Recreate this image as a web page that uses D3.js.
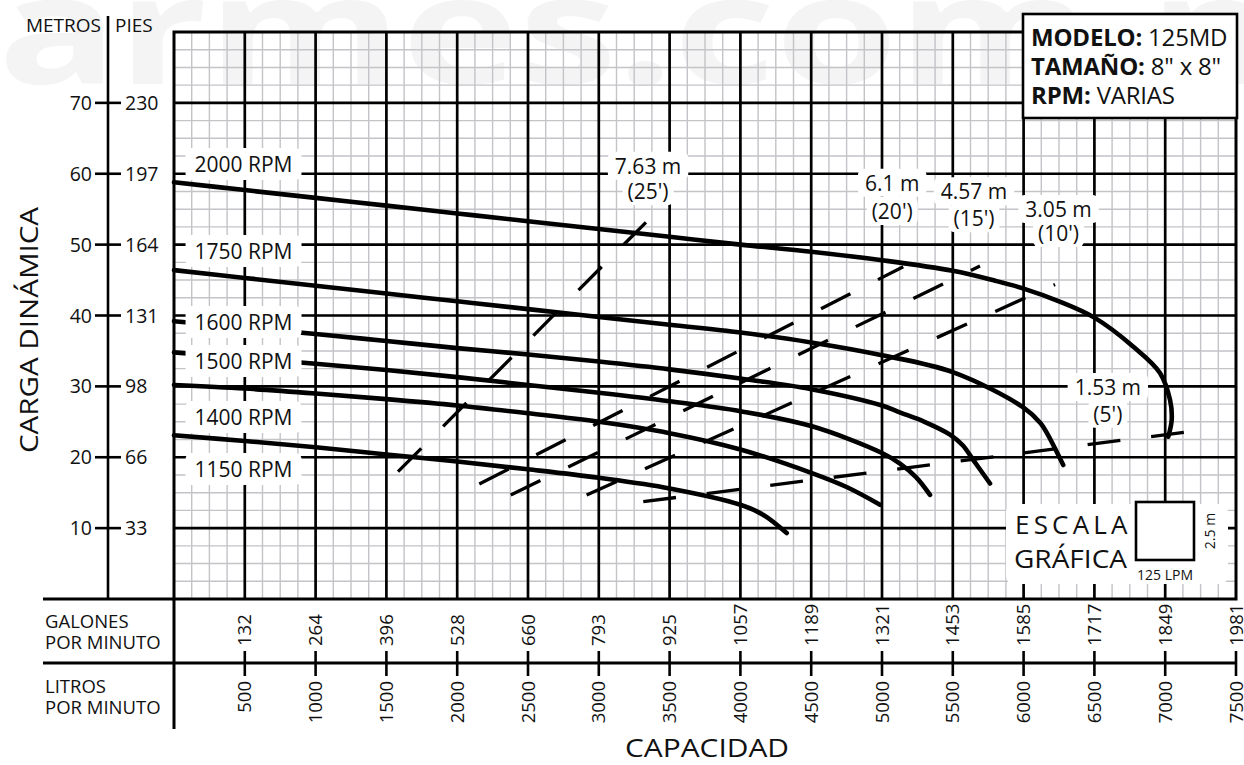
<!DOCTYPE html>
<html><head><meta charset="utf-8">
<script src="https://cdn.jsdelivr.net/npm/d3@7"></script>
<style>
body{margin:0;background:#fff}
svg{display:block}
text{font-family:'Open Sans','Noto Sans',sans-serif;fill:#111}
</style>
</head><body>
<svg id="c" width="1244" height="765"></svg>
<script>
// ---------- DATA ----------
const lpmTicks = [500,1000,1500,2000,2500,3000,3500,4000,4500,5000,5500,6000,6500,7000,7500];
const gpmLabels = ["132","264","396","528","660","793","925","1057","1189","1321","1453","1585","1717","1849","1981"];
const meterTicks = [70,60,50,40,30,20,10];
const feetLabels = ["230","197","164","131","98","66","33"];
const rpmNames = ["2000 RPM","1750 RPM","1600 RPM","1500 RPM","1400 RPM","1150 RPM"];
// [LPM, metros]
const curve2000 = [[0,58.8],[500,57.7],[1000,56.6],[1500,55.5],[2000,54.4],[2500,53.3],[3000,52.2],[3500,51.1],[4000,50.0],[4500,49.0],[5000,47.8],[5500,46.3],[5800,44.9],[6000,43.8],[6250,42.0],[6500,39.7],[6775,35.6],[6963,31.9],[7034,28.1],[7046,25.3],[7022,22.9]];
const curve1750 = [[0,46.4],[500,45.3],[1000,44.2],[1500,43.1],[2000,42.0],[2500,40.9],[3000,39.8],[3500,38.7],[4000,37.6],[4500,36.2],[5000,34.4],[5500,32.0],[6000,27.0],[6120,24.8],[6165,23.4],[6280,18.9]];
const curve1600 = [[0,39.2],[500,38.3],[1000,37.4],[1500,36.4],[2000,35.4],[2500,34.5],[3000,33.5],[3500,32.4],[4000,31.1],[4500,29.6],[5000,27.3],[5130,26.3],[5300,25.0],[5480,23.2],[5570,21.7],[5645,19.6],[5763,16.3]];
const curve1500 = [[0,34.8],[500,34.0],[1000,33.2],[1500,32.3],[2000,31.3],[2500,30.2],[3000,29.1],[3500,27.9],[4000,26.5],[4500,24.4],[5000,20.6],[5127,19.1],[5240,17.2],[5339,14.7]];
const curve1400 = [[0,30.2],[500,29.7],[1000,29.0],[1500,28.2],[2000,27.3],[2500,26.2],[3000,25.0],[3500,23.4],[4000,21.1],[4500,17.8],[4750,15.8],[4986,13.3]];
const curve1150 = [[0,23.1],[500,22.3],[1000,21.4],[1500,20.4],[2000,19.4],[2500,18.3],[3000,17.1],[3500,15.6],[4000,13.3],[4160,11.9],[4327,9.3]];
// NPSH lines (dashed) [LPM, metros]
const npshNames = ["7.63 m","6.1 m","4.57 m","3.05 m","1.53 m"];
const npshFeet = ["(25')","(20')","(15')","(10')","(5')"];
const npsh763 = [[1582,17.96],[3333,53.15]];
const npsh610 = [[2156,16.23],[5150,46.89]];
const npsh457 = [[2378,14.67],[5692,46.98]];
const npsh305 = [[2914,14.67],[6222,44.37]];
const npsh153 = [[3314,13.73],[7133,23.52]];

// ---------- DRAW ----------
const svg = d3.select("#c");
const x = d3.scaleLinear().domain([0,7500]).range([174,1236]);
const y = d3.scaleLinear().domain([0,80]).range([599,32]);

// watermark
svg.append("text").text("armes.com.m").attr("x",-2).attr("y",84)
  .attr("font-size",150).attr("font-weight",700).style("fill","#f4f4f4")
  .attr("textLength",1345).attr("lengthAdjust","spacingAndGlyphs");

// minor grid
const gMinor = svg.append("g").attr("stroke","#c3c3c8").attr("stroke-width",1.4);
gMinor.selectAll("line.v").data(d3.range(125,7500,125)).join("line")
  .attr("x1",d=>x(d)).attr("x2",d=>x(d)).attr("y1",y(0)).attr("y2",y(80));
gMinor.selectAll("line.h").data(d3.range(2.5,80,2.5)).join("line")
  .attr("x1",x(0)).attr("x2",x(7500)).attr("y1",d=>y(d)).attr("y2",d=>y(d));
// major grid
const gMajor = svg.append("g").attr("stroke","#000").attr("stroke-width",2.7);
gMajor.selectAll("line.v").data(d3.range(500,7500,500)).join("line")
  .attr("x1",d=>x(d)).attr("x2",d=>x(d)).attr("y1",y(0)).attr("y2",y(80));
gMajor.selectAll("line.h").data(d3.range(10,80,10)).join("line")
  .attr("x1",x(0)).attr("x2",x(7500)).attr("y1",d=>y(d)).attr("y2",d=>y(d));
// border
svg.append("rect").attr("x",x(0)).attr("y",y(80)).attr("width",x(7500)-x(0)).attr("height",y(0)-y(80))
  .attr("fill","none").attr("stroke","#000").attr("stroke-width",3);

// curves
const line = d3.line().x(d=>x(d[0])).y(d=>y(d[1])).curve(d3.curveCatmullRom.alpha(0.5));
[curve2000,curve1750,curve1600,curve1500,curve1400,curve1150].forEach(c=>{
  svg.append("path").attr("d",line(c)).attr("fill","none").attr("stroke","#000")
    .attr("stroke-width",4.6).attr("stroke-linecap","round");
});
// NPSH dashed
const sline = d3.line().x(d=>x(d[0])).y(d=>y(d[1]));
[npsh763,npsh610,npsh457,npsh305,npsh153].forEach(c=>{
  svg.append("path").attr("d",sline(c)).attr("fill","none").attr("stroke","#000")
    .attr("stroke-width",3.3).attr("stroke-dasharray","33 31");
});

// boxed text helper
function boxed(txt, cx, by, size, padX, padY, anchor){
  const g = svg.append("g");
  const r = g.append("rect").attr("fill","#fff").attr("rx",6);
  const t = g.append("text").text(txt).attr("x",cx).attr("y",by)
    .attr("font-size",size).attr("text-anchor",anchor||"middle");
  const b = t.node().getBBox();
  r.attr("x",b.x-padX).attr("y",b.y-padY).attr("width",b.width+2*padX).attr("height",b.height+2*padY);
  return g;
}
// RPM labels (positions in data units)
const rpmPos = [[491,60.25],[491,47.97],[491,37.95],[491,32.45],[491,24.55],[491,17.2]];
rpmNames.forEach((n,i)=>boxed(n, x(rpmPos[i][0]), y(rpmPos[i][1]), 21, 9, 2));
// NPSH labels
const npshPos = [[3348,60.0,56.4],[5072,57.6,53.6],[5650,56.4,52.6],[6247,53.9,50.5],[6595,28.8,25.0]];
npshNames.forEach((n,i)=>{
  boxed(n, x(npshPos[i][0]), y(npshPos[i][1]), 21, 7, 0);
  boxed(npshFeet[i], x(npshPos[i][0]), y(npshPos[i][2]), 21, 5, 0);
});

// info box
svg.append("rect").attr("x",1023).attr("y",14).attr("width",214).attr("height",104)
  .attr("fill","#fff").attr("stroke","#000").attr("stroke-width",2.6);
const info = [["MODELO:"," 125MD"],["TAMAÑO:"," 8\" x 8\""],["RPM:"," VARIAS"]];
info.forEach((d,i)=>{
  const t = svg.append("text").attr("x",1031).attr("y",46+i*29).attr("font-size",24)
    .attr("letter-spacing",-0.2);
  t.append("tspan").attr("font-weight",700).text(d[0]);
  t.append("tspan").text(d[1]);
});

// left axis
svg.append("line").attr("x1",108).attr("x2",108).attr("y1",16).attr("y2",y(0))
  .attr("stroke","#000").attr("stroke-width",2.6);
svg.append("text").text("METROS").attr("x",101).attr("y",32).attr("text-anchor","end").attr("font-size",19);
svg.append("text").text("PIES").attr("x",115).attr("y",32).attr("font-size",19);
meterTicks.forEach((m,i)=>{
  svg.append("line").attr("x1",95).attr("x2",121).attr("y1",y(m)).attr("y2",y(m))
    .attr("stroke","#000").attr("stroke-width",2.6);
  svg.append("text").text(m).attr("x",92).attr("y",y(m)).attr("dy","0.36em")
    .attr("text-anchor","end").attr("font-size",19.5);
  svg.append("text").text(feetLabels[i]).attr("x",125).attr("y",y(m)).attr("dy","0.36em")
    .attr("font-size",19.5);
});
svg.append("text").text("CARGA DINÁMICA").attr("transform","translate(38,330) rotate(-90)")
  .attr("text-anchor","middle").attr("font-size",26)
  .attr("textLength",246).attr("lengthAdjust","spacingAndGlyphs");

// bottom axis table
svg.append("line").attr("x1",43).attr("x2",x(0)).attr("y1",y(0)).attr("y2",y(0)).attr("stroke","#000").attr("stroke-width",3);
svg.append("line").attr("x1",43).attr("x2",x(7500)).attr("y1",663).attr("y2",663).attr("stroke","#000").attr("stroke-width",3);
svg.append("line").attr("x1",x(0)).attr("x2",x(0)).attr("y1",y(0)).attr("y2",729).attr("stroke","#000").attr("stroke-width",3);
lpmTicks.forEach((v,i)=>{
  svg.append("line").attr("x1",x(v)).attr("x2",x(v)).attr("y1",651).attr("y2",676)
    .attr("stroke","#000").attr("stroke-width",2.6);
  svg.append("text").text(gpmLabels[i]).attr("transform",`translate(${x(v)},646) rotate(-90)`)
    .attr("dy","0.36em").attr("font-size",18.5);
  svg.append("text").text(v).attr("transform",`translate(${x(v)},681) rotate(-90)`)
    .attr("dy","0.36em").attr("text-anchor","end").attr("font-size",18.5);
});
[["GALONES",628],["POR MINUTO",649],["LITROS",693],["POR MINUTO",714]].forEach(d=>{
  svg.append("text").text(d[0]).attr("x",45).attr("y",d[1]).attr("font-size",18.5);
});
svg.append("text").text("CAPACIDAD").attr("x",707).attr("y",757).attr("text-anchor","middle").attr("font-size",26)
  .attr("textLength",164).attr("lengthAdjust","spacingAndGlyphs");

// graphic scale
svg.append("rect").attr("x",1006).attr("y",504).attr("width",222).attr("height",80).attr("rx",8).attr("fill","#fff");
svg.append("text").text("ESCALA").attr("x",1015).attr("y",534).attr("font-size",26).attr("letter-spacing",4.2);
svg.append("text").text("GRÁFICA").attr("x",1014).attr("y",568).attr("font-size",26)
  .attr("textLength",113).attr("lengthAdjust","spacingAndGlyphs");
svg.append("rect").attr("x",1136).attr("y",502).attr("width",58).attr("height",58)
  .attr("fill","#fff").attr("stroke","#000").attr("stroke-width",2.6);
svg.append("text").text("125 LPM").attr("x",1165).attr("y",580).attr("text-anchor","middle").attr("font-size",14);
svg.append("text").text("2.5 m").attr("transform","translate(1210,531) rotate(-90)")
  .attr("dy","0.36em").attr("text-anchor","middle").attr("font-size",14);
</script>
</body></html>
